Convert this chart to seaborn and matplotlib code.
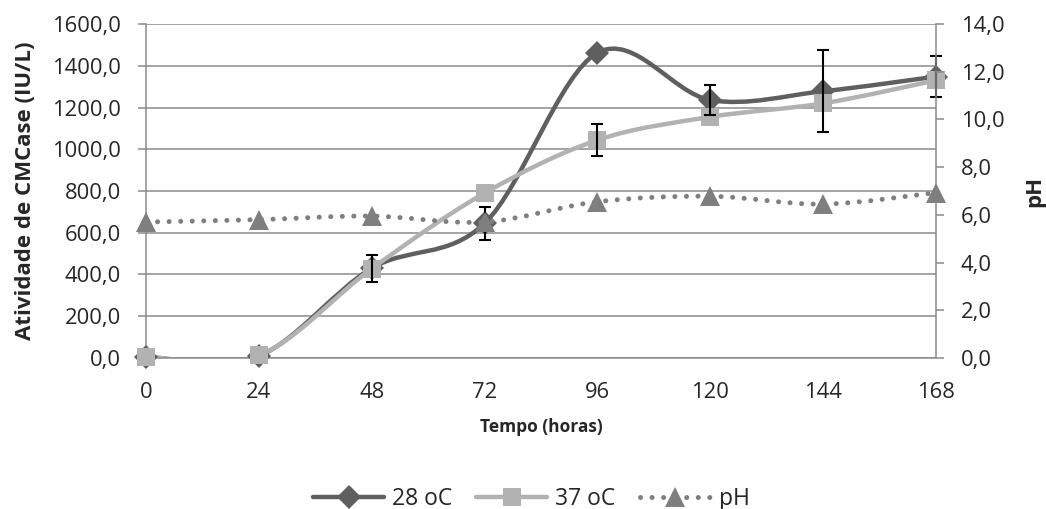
import matplotlib
matplotlib.use("Agg")
import matplotlib.pyplot as plt
import seaborn as sns
import numpy as np
from matplotlib.path import Path
from matplotlib.patches import PathPatch
from matplotlib.lines import Line2D
from matplotlib.ticker import FuncFormatter, MultipleLocator

# DATA
hours = [0, 24, 48, 72, 96, 120, 144, 168]
act_28 = [5, 10, 430, 645, 1462, 1236, 1278, 1348]
err_28 = [0, 0, 65, 80, 0, 72, 196, 97]
act_37 = [5, 12, 428, 790, 1044, 1155, 1220, 1330]
err_37 = [0, 0, 0, 0, 77, 0, 0, 0]
ph = [5.7, 5.8, 5.95, 5.7, 6.55, 6.78, 6.45, 6.93]

c28, c37, cph = "#5f5f5f", "#b2b2b2", "#7f7f7f"
grid_c = "#8a8a8a"
dots = (0, (0.01, 2.3))


def smooth_patch(x, y, color, lw, ls="-"):
    # Excel-like smoothed line drawn as cubic bezier path
    p = np.column_stack([x, y]).astype(float)
    n = len(p)
    verts, codes = [p[0]], [Path.MOVETO]
    for i in range(n - 1):
        p0, p1, p2, p3 = p[max(i - 1, 0)], p[i], p[i + 1], p[min(i + 2, n - 1)]
        verts += [p1 + (p2 - p0) / 6, p2 - (p3 - p1) / 6, p2]
        codes += [Path.CURVE4] * 3
    return PathPatch(Path(verts, codes), facecolor="none", edgecolor=color,
                     lw=lw, linestyle=ls, capstyle="round")


def errbars(ax, x, y, e):
    idx = [i for i in range(len(x)) if e[i] > 0]
    ax.errorbar([x[i] for i in idx], [y[i] for i in idx], yerr=[e[i] for i in idx],
                fmt="none", ecolor="black", elinewidth=1.5, capsize=4,
                capthick=1.5, zorder=6, clip_on=False)


def comma(v, pos):
    return f"{v:.1f}".replace(".", ",")


sns.set_theme(style="white")
plt.rcParams["font.family"] = ["Open Sans", "DejaVu Sans"]

fig = plt.figure(figsize=(10.46, 5.09), dpi=100)
ax = fig.add_axes([0.1396, 0.2967, 0.7552, 0.6561])

ax.add_patch(smooth_patch(hours, act_28, c28, 3.2))
sns.lineplot(x=hours, y=act_28, ax=ax, color=c28, marker="D", markersize=12,
             markeredgewidth=0, linestyle="", zorder=3, clip_on=False)
ax.add_patch(smooth_patch(hours, act_37, c37, 3.2))
sns.lineplot(x=hours, y=act_37, ax=ax, color=c37, marker="s", markersize=13.5,
             markeredgewidth=0, linestyle="", zorder=4, clip_on=False)
errbars(ax, hours, act_28, err_28)
errbars(ax, hours, act_37, err_37)

ax.set_xlim(0, 168)
ax.set_ylim(0, 1600)
ax.set_xticks(hours)
ax.yaxis.set_major_locator(MultipleLocator(200))
ax.yaxis.set_major_formatter(FuncFormatter(comma))
ax.grid(axis="y", color=grid_c, lw=1.1)
ax.set_axisbelow(True)
for s in ["top", "right"]:
    ax.spines[s].set_visible(False)
for s in ["left", "bottom"]:
    ax.spines[s].set_color(grid_c)
    ax.spines[s].set_linewidth(1.1)
ax.tick_params(axis="y", left=True, length=6, width=1.1, color=grid_c,
               labelsize=15.8, pad=12)
ax.tick_params(axis="x", bottom=False, labelsize=15.8, pad=11)
ax.set_ylabel("Atividade de CMCase (IU/L)", fontsize=16, fontweight="bold")
ax.set_xlabel("Tempo (horas)", fontsize=12.5, fontweight="bold")
ax.yaxis.set_label_coords(-0.139, 0.5)
ax.xaxis.set_label_coords(0.5, -0.18)

ax2 = ax.twinx()
ax2.add_patch(smooth_patch(hours, ph, cph, 3.6, ls=dots))
sns.lineplot(x=hours, y=ph, ax=ax2, color=cph, marker="^", markersize=14,
             markeredgewidth=0, linestyle="", zorder=3, clip_on=False)
ax2.set_ylim(0, 14)
ax2.yaxis.set_major_locator(MultipleLocator(2))
ax2.yaxis.set_major_formatter(FuncFormatter(comma))
for s in ["top", "left", "bottom"]:
    ax2.spines[s].set_visible(False)
ax2.spines["right"].set_color(grid_c)
ax2.spines["right"].set_linewidth(1.1)
ax2.tick_params(axis="y", right=True, length=6, width=1.1, color=grid_c,
                labelsize=15.8, pad=12)
ax2.set_ylabel("pH", fontsize=16, fontweight="bold")
ax2.yaxis.set_label_coords(1.112, 0.5)
ax2.set_xlim(0, 168)

handles = [
    Line2D([], [], color=c28, lw=3.2, marker="D", markersize=12, markeredgewidth=0),
    Line2D([], [], color=c37, lw=3.2, marker="s", markersize=13.5, markeredgewidth=0),
    Line2D([], [], color=cph, lw=3.6, linestyle=dots, dash_capstyle="round",
           marker="^", markersize=14, markeredgewidth=0),
]
fig.legend(handles, ["28 oC", "37 oC", "pH"], loc="center", ncol=3,
           bbox_to_anchor=(0.508, 0.02), frameon=False, fontsize=16.5,
           handlelength=3.1, columnspacing=1.05, handletextpad=0.35)

fig.savefig("out.png", dpi=100)
